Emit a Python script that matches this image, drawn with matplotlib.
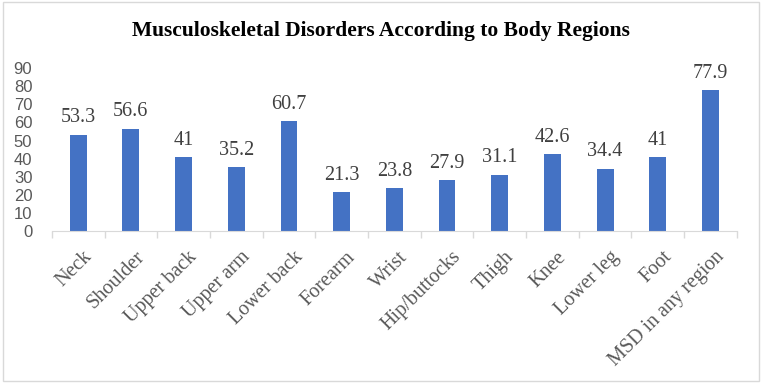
import matplotlib
matplotlib.use('Agg')
from matplotlib import pyplot as plt
import numpy as np
from matplotlib.patches import Rectangle

regions = ['Neck', 'Shoulder', 'Upper back', 'Upper arm', 'Lower back', 'Forearm',
           'Wrist', 'Hip/buttocks', 'Thigh', 'Knee', 'Lower leg', 'Foot', 'MSD in any region']
percent = [53.3, 56.6, 41, 35.2, 60.7, 21.3, 23.8, 27.9, 31.1, 42.6, 34.4, 41, 77.9]
value_labels = ['53.3', '56.6', '41', '35.2', '60.7', '21.3', '23.8', '27.9', '31.1', '42.6', '34.4', '41', '77.9']
yticks = [0, 10, 20, 30, 40, 50, 60, 70, 80, 90]

serif = ['Liberation Serif', 'DejaVu Serif']
sans = ['Liberation Sans', 'DejaVu Sans']
grey = '#595959'

fig = plt.figure(figsize=(7.62, 3.83), dpi=100)
ax = fig.add_axes([0.068, 0.397, 0.899, 0.425])

x = np.arange(len(regions))
ax.bar(x, percent, width=0.32, color='#4472C4', zorder=2)

for xi, v, lab in zip(x, percent, value_labels):
    ax.text(xi, v + 4, lab, ha='center', va='bottom', fontsize=14.5,
            family=serif, color='#404040')

ax.set_xlim(-0.5, len(regions) - 0.5)
ax.set_ylim(0, 90)
ax.set_yticks(yticks)
ax.set_yticklabels([str(t) for t in yticks], family=sans, fontsize=12, color=grey)
ax.tick_params(axis='y', length=0, pad=14)

# category boundaries carry the tick marks, like the original
ax.set_xticks(np.arange(len(regions) + 1) - 0.5)
ax.set_xticklabels([])
ax.tick_params(axis='x', length=5, color='#d9d9d9', width=1)
for xi, name in zip(x, regions):
    ax.annotate(name, xy=(xi, 0), xycoords=('data', 'data'), xytext=(3, -12),
                textcoords='offset points', rotation=45, ha='right', va='top',
                rotation_mode='anchor', fontsize=14.5, family=serif, color=grey)

for s in ['top', 'right', 'left']:
    ax.spines[s].set_visible(False)
ax.spines['bottom'].set_color('#d9d9d9')

fig.text(0.5, 0.918, 'Musculoskeletal Disorders According to Body Regions',
         ha='center', va='center', fontsize=15.5, fontweight='bold', family=serif)

fig.patches.append(Rectangle((0.004, 0.005), 0.992, 0.99, transform=fig.transFigure,
                             fill=False, edgecolor='#d9d9d9', linewidth=1))

fig.savefig('out.png', dpi=100)
